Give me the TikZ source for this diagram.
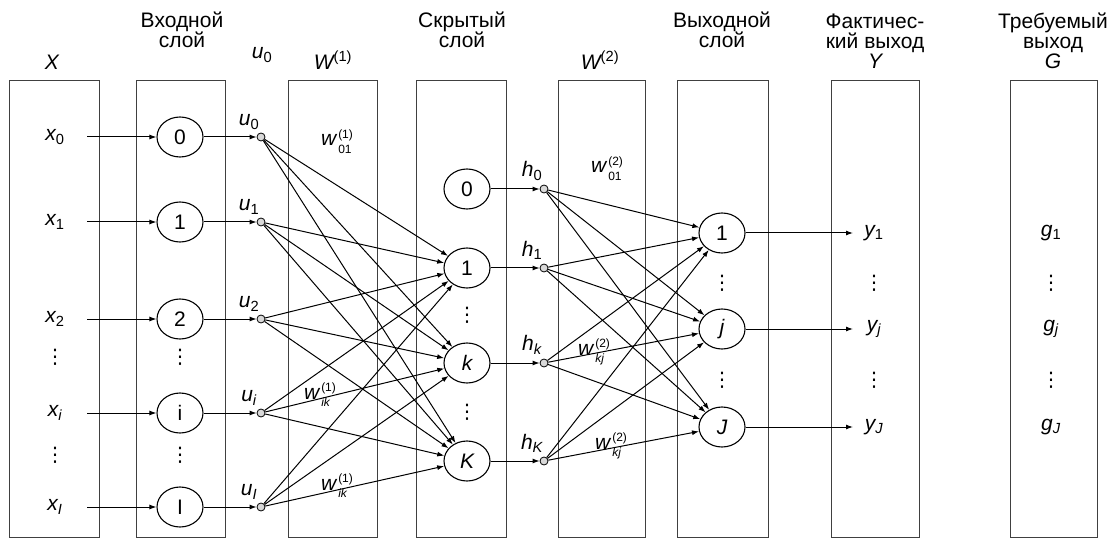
\documentclass[tikz,border=0pt]{standalone}
\usepackage{fontspec}
\setmainfont{Liberation Sans}
\newfontfamily\dejavu{DejaVu Sans}
\usetikzlibrary{arrows.meta,shapes.geometric}
\newcommand{\iv}[2]{{\itshape #1}\textsubscript{#2}}
\newcommand{\wl}[3]{{\itshape #1}\kern2pt{\fontsize{12}{15}\selectfont\renewcommand{\arraystretch}{1}\begin{tabular}[c]{@{}l@{}}#2\\#3\end{tabular}}}
\newcommand{\vd}{{\dejavu\fontsize{20}{20}\selectfont ⋮}}
\begin{document}
\begin{tikzpicture}[x=1pt,y=-1pt,
  font=\fontsize{21}{20}\selectfont,
  panel/.style={draw=black!75, line width=0.6pt},
  neuron/.style={draw, line width=1.1pt, ellipse, minimum width=46pt, minimum height=40pt, inner sep=0pt},
  dot/.style={draw, line width=0.8pt, circle, fill=black!15, minimum size=8pt, inner sep=0pt},
  conn/.style={line width=1pt, -{Latex[length=7pt,width=5pt]}},
  lbl/.style={inner sep=1pt}]
\useasboundingbox (0,0) rectangle (1114,540);
% panels
\draw[panel] (9,80) rectangle (99,537);
\draw[panel] (136,80) rectangle (225,537);
\draw[panel] (288,80) rectangle (377,537);
\draw[panel] (416,80) rectangle (506,537);
\draw[panel] (558,80) rectangle (645,537);
\draw[panel] (677,80) rectangle (768,537);
\draw[panel] (831,80) rectangle (919,537);
\draw[panel] (1010,80) rectangle (1097,537);
% headers
\node[align=center] (hIn) at (182,30) {Входной\\слой};
\node[align=center] (hHid) at (462,30) {Скрытый\\слой};
\node[align=center] (hOut) at (722,30) {Выходной\\слой};
\node[align=center] (hY) at (875,41) {Фактичес-\\кий выход\\{\itshape Y}};
\node[align=center] (hG) at (1053,41) {Требуемый\\выход\\{\itshape G}};
\node (hX) at (52,62) {\itshape X};
\node (hU) at (262,55) {\iv{u}{0}};
\node (hW1) at (333,60) {{\itshape W}\textsuperscript{(1)}};
\node (hW2) at (600,60) {{\itshape W}\textsuperscript{(2)}};
% input layer
\foreach \n/\y/\t/\s in {0/137/0/0, 1/222/1/1, 2/319/2/2, i/413/i/\itshape i, I/507/I/\itshape I} {
  \node[neuron] (in\n) at (180,\y) {\t};
  \node[lbl] (x\n) at (55,\y) {\iv{x}{\s}};
  \coordinate (xs\n) at (87,\y);
  \draw[conn] (xs\n) -- (in\n);
  \node[dot] (u\n) at (261,\y) {};
  \draw[conn] (in\n) -- (u\n);
  \node[lbl] (ul\n) at (249,\y-15) {\iv{u}{\s}};
}
\node (xd1) at (55,357) {\vd};
\node (xd2) at (55,455) {\vd};
\node (ind1) at (180,357) {\vd};
\node (ind2) at (180,455) {\vd};
% hidden layer
\foreach \n/\y/\t/\s in {0/189/0/0, 1/268/1/1, k/363/\itshape k/\itshape k, K/461/\itshape K/\itshape K} {
  \node[neuron] (hid\n) at (467,\y) {\t};
  \node[dot] (h\n) at (544,\y) {};
  \draw[conn] (hid\n) -- (h\n);
  \node[lbl] (hl\n) at (532,\y-18) {\iv{h}{\s}};
}
\node (hd1) at (467,315) {\vd};
\node (hd2) at (467,412) {\vd};
% output layer
\foreach \n/\y/\t/\s in {1/233/1/1, j/329/\itshape j/\itshape j, J/427/\itshape J/\itshape J} {
  \node[neuron] (out\n) at (722,\y) {\t};
  \node[lbl] (y\n) at (874,\y) {\iv{y}{\s}};
  \coordinate (ye\n) at (853,\y);
  \draw[conn] (out\n) -- (ye\n);
  \node[lbl] (g\n) at (1051,\y) {\iv{g}{\s}};
}
\node (od1) at (722,283) {\vd};
\node (od2) at (722,380) {\vd};
\node (yd1) at (874,283) {\vd};
\node (yd2) at (874,380) {\vd};
\node (gd1) at (1051,283) {\vd};
\node (gd2) at (1051,380) {\vd};
% weights
\foreach \a in {0,1,2,i,I} \foreach \b in {1,k,K} \draw[conn] (u\a) -- (hid\b);
\foreach \a in {0,1,k,K} \foreach \b in {1,j,J} \draw[conn] (h\a) -- (out\b);
% weight labels
\node[lbl] (w1a) at (337,143) {\wl{w}{(1)}{01}};
\node[lbl] (w1b) at (320,396) {\wl{w}{(1)}{\itshape ik}};
\node[lbl] (w1c) at (337,487) {\wl{w}{(1)}{\itshape ik}};
\node[lbl] (w2a) at (607,170) {\wl{w}{(2)}{01}};
\node[lbl] (w2b) at (594,352) {\wl{w}{(2)}{\itshape kj}};
\node[lbl] (w2c) at (611,446) {\wl{w}{(2)}{\itshape kj}};
\end{tikzpicture}
\end{document}
